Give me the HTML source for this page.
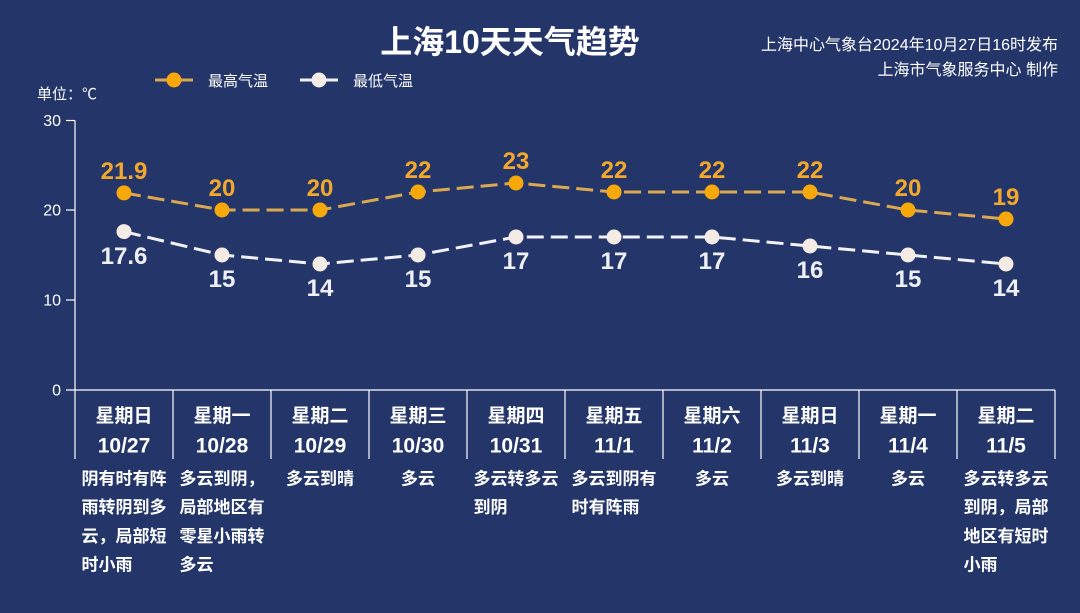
<!DOCTYPE html>
<html>
<head>
<meta charset="utf-8">
<style>
html,body{margin:0;padding:0;background:#243569;}
svg{display:block;}
text{font-family:"Liberation Sans","Noto Sans CJK SC",sans-serif;}
</style>
</head>
<body>
<svg width="1080" height="613" viewBox="0 0 1080 613" xmlns="http://www.w3.org/2000/svg">
<rect x="0" y="0" width="1080" height="613" fill="#243569"/>

<!-- Title -->
<text x="510" y="53" font-size="32" font-weight="bold" fill="#ffffff" text-anchor="middle">上海10天天气趋势</text>
<text x="1058" y="50" font-size="16" fill="#ffffff" text-anchor="end">上海中心气象台2024年10月27日16时发布</text>
<text x="1058" y="75" font-size="16" fill="#ffffff" text-anchor="end">上海市气象服务中心 制作</text>

<!-- Legend -->
<line x1="155" y1="80" x2="193" y2="80" stroke="#d9a752" stroke-width="3"/>
<circle cx="174" cy="80" r="7.5" fill="#f7a90c"/>
<text x="208" y="86" font-size="15" fill="#ffffff">最高气温</text>
<line x1="300" y1="80" x2="338" y2="80" stroke="#f2f2f5" stroke-width="3"/>
<circle cx="319" cy="80" r="7.5" fill="#f4ebe4"/>
<text x="353" y="86" font-size="15" fill="#ffffff">最低气温</text>

<text x="37" y="99" font-size="15" fill="#ffffff">单位：℃</text>

<!-- Y axis -->
<line x1="75" y1="120.5" x2="75" y2="390" stroke="#ffffff" stroke-width="1.2"/>
<g stroke="#ffffff" stroke-width="1.2">
<line x1="66" y1="120.5" x2="75" y2="120.5"/>
<line x1="66" y1="210" x2="75" y2="210"/>
<line x1="66" y1="300" x2="75" y2="300"/>
<line x1="66" y1="390" x2="1055" y2="390"/>
</g>
<g font-size="16" fill="#ffffff" text-anchor="end">
<text x="61" y="126">30</text>
<text x="61" y="215.5">20</text>
<text x="61" y="305.5">10</text>
<text x="61" y="395.5">0</text>
</g>

<!-- Column separators -->
<g stroke="#ffffff" stroke-width="1.2">
<line x1="75" y1="390" x2="75" y2="459"/>
<line x1="173" y1="390" x2="173" y2="459"/>
<line x1="271" y1="390" x2="271" y2="459"/>
<line x1="369" y1="390" x2="369" y2="459"/>
<line x1="467" y1="390" x2="467" y2="459"/>
<line x1="565" y1="390" x2="565" y2="459"/>
<line x1="663" y1="390" x2="663" y2="459"/>
<line x1="761" y1="390" x2="761" y2="459"/>
<line x1="859" y1="390" x2="859" y2="459"/>
<line x1="957" y1="390" x2="957" y2="459"/>
<line x1="1055" y1="390" x2="1055" y2="459"/>
</g>

<!-- Weekday + dates -->
<g font-size="19" font-weight="bold" fill="#ffffff" text-anchor="middle">
<text x="124" y="422">星期日</text>
<text x="222" y="422">星期一</text>
<text x="320" y="422">星期二</text>
<text x="418" y="422">星期三</text>
<text x="516" y="422">星期四</text>
<text x="614" y="422">星期五</text>
<text x="712" y="422">星期六</text>
<text x="810" y="422">星期日</text>
<text x="908" y="422">星期一</text>
<text x="1006" y="422">星期二</text>
</g>
<g font-size="21" font-weight="bold" fill="#ffffff" text-anchor="middle">
<text x="124" y="452.5">10/27</text>
<text x="222" y="452.5">10/28</text>
<text x="320" y="452.5">10/29</text>
<text x="418" y="452.5">10/30</text>
<text x="516" y="452.5">10/31</text>
<text x="614" y="452.5">11/1</text>
<text x="712" y="452.5">11/2</text>
<text x="810" y="452.5">11/3</text>
<text x="908" y="452.5">11/4</text>
<text x="1006" y="452.5">11/5</text>
</g>

<!-- Descriptions -->
<g font-size="17" font-weight="bold" fill="#ffffff">
<text x="81.5" y="484.5">阴有时有阵</text>
<text x="81.5" y="513.2">雨转阴到多</text>
<text x="81.5" y="541.9">云，局部短</text>
<text x="81.5" y="570.6">时小雨</text>

<text x="179.5" y="484.5">多云到阴，</text>
<text x="179.5" y="513.2">局部地区有</text>
<text x="179.5" y="541.9">零星小雨转</text>
<text x="179.5" y="570.6">多云</text>

<text x="320" y="484.5" text-anchor="middle">多云到晴</text>
<text x="418" y="484.5" text-anchor="middle">多云</text>

<text x="473.5" y="484.5">多云转多云</text>
<text x="473.5" y="513.2">到阴</text>

<text x="571.5" y="484.5">多云到阴有</text>
<text x="571.5" y="513.2">时有阵雨</text>

<text x="712" y="484.5" text-anchor="middle">多云</text>
<text x="810" y="484.5" text-anchor="middle">多云到晴</text>
<text x="908" y="484.5" text-anchor="middle">多云</text>

<text x="963.5" y="484.5">多云转多云</text>
<text x="963.5" y="513.2">到阴，局部</text>
<text x="963.5" y="541.9">地区有短时</text>
<text x="963.5" y="570.6">小雨</text>
</g>

<!-- High temp line -->
<polyline fill="none" stroke="#dba852" stroke-width="3" stroke-dasharray="17,7"
 points="124,192.9 222,210 320,210 418,192 516,183 614,192 712,192 810,192 908,210 1006,219"/>
<g fill="#f7a90c">
<circle cx="124" cy="192.9" r="7.5"/>
<circle cx="222" cy="210" r="7.5"/>
<circle cx="320" cy="210" r="7.5"/>
<circle cx="418" cy="192" r="7.5"/>
<circle cx="516" cy="183" r="7.5"/>
<circle cx="614" cy="192" r="7.5"/>
<circle cx="712" cy="192" r="7.5"/>
<circle cx="810" cy="192" r="7.5"/>
<circle cx="908" cy="210" r="7.5"/>
<circle cx="1006" cy="219" r="7.5"/>
</g>
<g font-size="24" font-weight="bold" fill="#f2a82c" text-anchor="middle">
<text x="124" y="179">21.9</text>
<text x="222" y="196">20</text>
<text x="320" y="196">20</text>
<text x="418" y="178">22</text>
<text x="516" y="169">23</text>
<text x="614" y="178">22</text>
<text x="712" y="178">22</text>
<text x="810" y="178">22</text>
<text x="908" y="196">20</text>
<text x="1006" y="205">19</text>
</g>

<!-- Low temp line -->
<polyline fill="none" stroke="#f2f2f6" stroke-width="3" stroke-dasharray="17,7"
 points="124,231.6 222,255 320,264 418,255 516,237 614,237 712,237 810,246 908,255 1006,264"/>
<g fill="#f4ebe4">
<circle cx="124" cy="231.6" r="7.5"/>
<circle cx="222" cy="255" r="7.5"/>
<circle cx="320" cy="264" r="7.5"/>
<circle cx="418" cy="255" r="7.5"/>
<circle cx="516" cy="237" r="7.5"/>
<circle cx="614" cy="237" r="7.5"/>
<circle cx="712" cy="237" r="7.5"/>
<circle cx="810" cy="246" r="7.5"/>
<circle cx="908" cy="255" r="7.5"/>
<circle cx="1006" cy="264" r="7.5"/>
</g>
<g font-size="24" font-weight="bold" fill="#eef0f6" text-anchor="middle">
<text x="124" y="264">17.6</text>
<text x="222" y="287">15</text>
<text x="320" y="296">14</text>
<text x="418" y="287">15</text>
<text x="516" y="269">17</text>
<text x="614" y="269">17</text>
<text x="712" y="269">17</text>
<text x="810" y="278">16</text>
<text x="908" y="287">15</text>
<text x="1006" y="296">14</text>
</g>
</svg>
</body>
</html>
